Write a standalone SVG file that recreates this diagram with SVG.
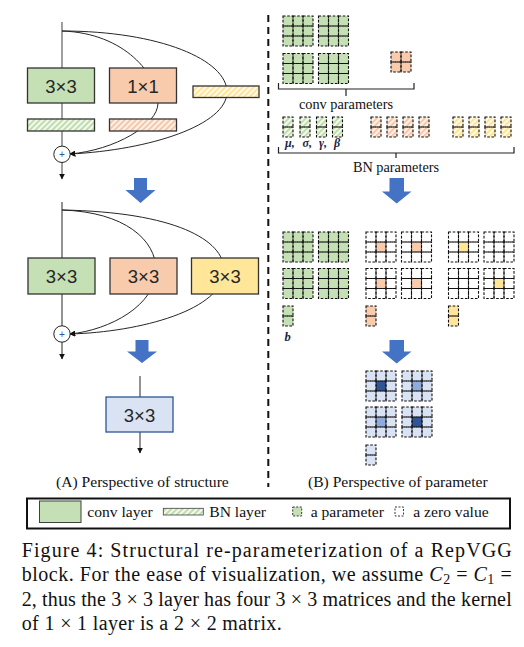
<svg xmlns="http://www.w3.org/2000/svg" xmlns:xlink="http://www.w3.org/1999/xlink" width="524" height="647" viewBox="0 0 524 647">
<style>
.box{stroke:#333;stroke-width:1.3}
.lbl{font-family:"Liberation Sans",Arial,sans-serif;font-size:18.5px;fill:#262626;text-anchor:middle}
.ser{font-family:"Liberation Serif","Times New Roman",serif;fill:#111}
.cur{fill:none;stroke:#262626;stroke-width:1}
.main{fill:none;stroke:#7f7f7f;stroke-width:1.5}
.blk{fill:none;stroke:#262626;stroke-width:1}
.barrow{fill:#4472c4}
.cell{fill:none;stroke:#111;stroke-width:1.1;stroke-dasharray:2.6 1.6}
.brace{fill:none;stroke:#222;stroke-width:1.2}
.gem{font-family:"Liberation Serif","Times New Roman",serif;font-style:italic;font-weight:bold;fill:#1a2440}
</style>
<defs>
<marker id="ah" viewBox="0 0 10 10" refX="9" refY="5" markerWidth="6" markerHeight="6" orient="auto" markerUnits="userSpaceOnUse">
<path d="M0,0 L10,5 L0,10 z" fill="#111"/>
</marker>
<pattern id="hG" width="4" height="4" patternUnits="userSpaceOnUse" patternTransform="rotate(45)">
<rect width="4" height="4" fill="#f3f9ef"/><line x1="1" y1="0" x2="1" y2="4" stroke="#b3d69a" stroke-width="1.6"/>
</pattern>
<pattern id="hO" width="4" height="4" patternUnits="userSpaceOnUse" patternTransform="rotate(45)">
<rect width="4" height="4" fill="#fdf2ea"/><line x1="1" y1="0" x2="1" y2="4" stroke="#f6bc98" stroke-width="1.6"/>
</pattern>
<pattern id="hY" width="4" height="4" patternUnits="userSpaceOnUse" patternTransform="rotate(45)">
<rect width="4" height="4" fill="#fffaea"/><line x1="1" y1="0" x2="1" y2="4" stroke="#ffdf80" stroke-width="1.6"/>
</pattern>
<g id="g3">
<rect class="cell" x="0" y="0" width="10" height="10"/><rect class="cell" x="10" y="0" width="10" height="10"/><rect class="cell" x="20" y="0" width="10" height="10"/>
<rect class="cell" x="0" y="10" width="10" height="10"/><rect class="cell" x="10" y="10" width="10" height="10"/><rect class="cell" x="20" y="10" width="10" height="10"/>
<rect class="cell" x="0" y="20" width="10" height="10"/><rect class="cell" x="10" y="20" width="10" height="10"/><rect class="cell" x="20" y="20" width="10" height="10"/>
</g>
<g id="g2">
<rect class="cell" x="0" y="0" width="10" height="10"/><rect class="cell" x="10" y="0" width="10" height="10"/>
<rect class="cell" x="0" y="10" width="10" height="10"/><rect class="cell" x="10" y="10" width="10" height="10"/>
</g>
<g id="v2">
<rect class="cell" x="0" y="0" width="10" height="10"/><rect class="cell" x="0" y="10" width="10" height="10"/>
</g>
<g id="mG"><rect width="30" height="30" fill="#c5e0b4"/><use href="#g3"/></g>
<g id="mW"><rect width="30" height="30" fill="#fff"/><use href="#g3"/></g>
<g id="mO"><rect width="30" height="30" fill="#fff"/><rect x="10" y="10" width="10" height="10" fill="#f8cbad"/><use href="#g3"/></g>
<g id="mY"><rect width="30" height="30" fill="#fff"/><rect x="10" y="10" width="10" height="10" fill="#ffe699"/><use href="#g3"/></g>
<g id="mBd"><rect width="30" height="30" fill="#dae3f3"/><rect x="10" y="10" width="10" height="10" fill="#2f5597"/><use href="#g3"/></g>
<g id="mBm"><rect width="30" height="30" fill="#dae3f3"/><rect x="10" y="10" width="10" height="10" fill="#8faadc"/><use href="#g3"/></g>
<g id="bnG"><rect width="10" height="20" fill="url(#hG)"/><use href="#v2"/></g>
<g id="bnO"><rect width="10" height="20" fill="url(#hO)"/><use href="#v2"/></g>
<g id="bnY"><rect width="10" height="20" fill="url(#hY)"/><use href="#v2"/></g>
</defs>

<rect width="524" height="647" fill="#fff"/>

<!-- connectors -->
<g id="connectors">
<!-- top structure -->
<line class="main" x1="62" y1="22" x2="62" y2="146"/>
<path class="cur" d="M62,31 C125,33 158,75 158,103 C158,125 115,150 70,154" marker-end="url(#ah)"/>
<path class="cur" d="M62,31 C160,31 227,60 227,92 C227,125 150,150 70,154" marker-end="url(#ah)"/>
<line class="main" x1="62" y1="162.5" x2="62" y2="179" marker-end="url(#ah)"/>
<!-- middle structure -->
<line class="blk" x1="62" y1="202" x2="62" y2="326"/>
<path class="cur" d="M62,210 C125,212 156,240 156,270 C156,305 110,330 70,334" marker-end="url(#ah)"/>
<path class="cur" d="M62,210 C175,212 224,240 224,270 C224,310 140,332 70,334" marker-end="url(#ah)"/>
<line class="blk" x1="62" y1="342" x2="62" y2="359" marker-end="url(#ah)"/>
<!-- bottom structure -->
<line class="blk" x1="140" y1="376" x2="140" y2="397"/>
<line class="blk" x1="140" y1="432" x2="140" y2="453" marker-end="url(#ah)"/>
<!-- separator -->
<line x1="268.3" y1="15" x2="268.3" y2="487" stroke="#111" stroke-width="2" stroke-dasharray="7 5"/>
<!-- big blue arrows -->
<polygon class="barrow" points="134,178 147,178 147,190 155.5,190 140.5,203 125.5,190 134,190"/>
<polygon class="barrow" points="135.5,340 148.5,340 148.5,351.5 157,351.5 142,363 127,351.5 135.5,351.5"/>
<polygon class="barrow" points="389.5,178 404,178 404,191.5 411.5,191.5 396.7,203.5 382,191.5 389.5,191.5"/>
<polygon class="barrow" points="389.5,340 404,340 404,351.5 411.5,351.5 396.7,363.5 382,351.5 389.5,351.5"/>
</g>

<!-- top structure nodes -->
<g id="conv3x3-a"><rect class="box" x="27.5" y="68" width="67" height="35" fill="#c5e0b4"/><text class="lbl" x="61" y="92.5">3×3</text></g>
<g id="conv1x1-a"><rect class="box" x="109.5" y="68" width="67" height="35" fill="#f8cbad"/><text class="lbl" x="143" y="92.5">1×1</text></g>
<g id="bn-id"><rect class="box" x="193" y="86" width="66" height="11.5" fill="url(#hY)" stroke-width="1"/></g>
<g id="bn-3x3"><rect class="box" x="27.5" y="119" width="67" height="12" fill="url(#hG)" stroke-width="1"/></g>
<g id="bn-1x1"><rect class="box" x="109.5" y="119" width="67" height="12" fill="url(#hO)" stroke-width="1"/></g>
<g id="add-a"><circle cx="62" cy="154.3" r="8.2" fill="#fff" stroke="#222" stroke-width="1"/><text x="62" y="158" font-family="Liberation Sans,Arial,sans-serif" font-size="10" fill="#2f5597" text-anchor="middle">+</text></g>

<!-- middle structure nodes -->
<g id="conv3x3-b"><rect class="box" x="28" y="258" width="67" height="36" fill="#c5e0b4"/><text class="lbl" x="61.5" y="283">3×3</text></g>
<g id="conv3x3-c"><rect class="box" x="110" y="258" width="67" height="36" fill="#f8cbad"/><text class="lbl" x="143.5" y="283">3×3</text></g>
<g id="conv3x3-d"><rect class="box" x="191.5" y="258" width="67" height="36" fill="#ffe699"/><text class="lbl" x="225" y="283">3×3</text></g>
<g id="add-b"><circle cx="62" cy="334" r="8.2" fill="#fff" stroke="#222" stroke-width="1"/><text x="62" y="337.7" font-family="Liberation Sans,Arial,sans-serif" font-size="10" fill="#2f5597" text-anchor="middle">+</text></g>

<!-- bottom structure node -->
<g id="conv3x3-final"><rect x="106" y="397" width="67" height="35" fill="#dae3f3" stroke="#2f5597" stroke-width="1.3"/><text class="lbl" x="139.5" y="421.5" font-size="19.5">3×3</text></g>

<text class="ser" x="56" y="486.5" font-size="15.6">(A) Perspective of structure</text>
<text class="ser" x="308" y="486.5" font-size="15.6">(B) Perspective of parameter</text>

<!-- conv parameters -->
<g id="conv-params">
<use href="#mG" x="283" y="16"/><use href="#mG" x="318.5" y="16"/>
<use href="#mG" x="283" y="53.5"/><use href="#mG" x="318.5" y="53.5"/>
<rect x="391" y="52" width="20" height="20" fill="#f8cbad"/><use href="#g2" x="391" y="52"/>
<path class="brace" d="M278.5,83 V89 H414 V83 M346,89 V96"/>
<text class="ser" x="346" y="108.5" font-size="14.3" text-anchor="middle">conv parameters</text>
</g>

<!-- BN parameters -->
<g id="bn-params">
<use href="#bnG" x="283" y="117"/><use href="#bnG" x="300" y="117"/><use href="#bnG" x="316.5" y="117"/><use href="#bnG" x="332.5" y="117"/>
<use href="#bnO" x="371" y="117"/><use href="#bnO" x="387" y="117"/><use href="#bnO" x="403" y="117"/><use href="#bnO" x="419" y="117"/>
<use href="#bnY" x="453" y="117"/><use href="#bnY" x="469" y="117"/><use href="#bnY" x="485" y="117"/><use href="#bnY" x="501" y="117"/>
<text class="gem" x="285" y="146.5" font-size="12">μ,</text>
<text class="gem" x="302.5" y="146.5" font-size="12">σ,</text>
<text class="gem" x="319" y="146.5" font-size="12">γ,</text>
<text class="gem" x="334" y="146.5" font-size="12">β</text>
<path class="brace" d="M278.5,147 V153 H514 V147 M396,153 V158"/>
<text class="ser" x="396" y="172" font-size="14.3" text-anchor="middle">BN parameters</text>
</g>

<!-- converted parameters -->
<g id="conv-equiv">
<use href="#mG" x="283" y="232"/><use href="#mG" x="318.5" y="232"/>
<use href="#mG" x="283" y="268.5"/><use href="#mG" x="318.5" y="268.5"/>
<use href="#mO" x="366" y="232"/><use href="#mO" x="401.5" y="232"/>
<use href="#mO" x="366" y="268.5"/><use href="#mO" x="401.5" y="268.5"/>
<use href="#mY" x="448.5" y="232"/><use href="#mW" x="484" y="232"/>
<use href="#mW" x="448.5" y="268.5"/><use href="#mY" x="484" y="268.5"/>
<rect x="283" y="306" width="10" height="20" fill="#c5e0b4"/><use href="#v2" x="283" y="306"/>
<rect x="366" y="306" width="10" height="20" fill="#f8cbad"/><use href="#v2" x="366" y="306"/>
<rect x="448.5" y="306" width="10" height="20" fill="#ffe699"/><use href="#v2" x="448.5" y="306"/>
<text class="gem" x="284.5" y="341" font-size="12.5">b</text>
</g>

<!-- final parameters -->
<g id="final-params">
<use href="#mBd" x="366" y="371"/><use href="#mBm" x="402" y="371"/>
<use href="#mBm" x="366" y="407"/><use href="#mBd" x="402" y="407"/>
<rect x="366" y="445" width="10" height="20" fill="#dae3f3"/><use href="#v2" x="366" y="445"/>
</g>

<!-- legend -->
<g id="legend">
<rect x="27" y="498.5" width="483" height="30" fill="#fff" stroke="#111" stroke-width="2"/>
<rect x="39.5" y="501" width="41.5" height="21.5" fill="#c5e0b4" stroke="#404040" stroke-width="1"/>
<text class="ser" x="87.3" y="517" font-size="15.6">conv layer</text>
<rect x="163.3" y="508.3" width="40" height="6.7" fill="url(#hG)" stroke="#404040" stroke-width="0.8"/>
<text class="ser" x="209.3" y="517" font-size="15.6">BN layer</text>
<rect x="292.7" y="507" width="9" height="9" fill="#c5e0b4" stroke="#222" stroke-width="0.9" stroke-dasharray="2 1.5"/>
<text class="ser" x="310.7" y="517" font-size="15.6">a parameter</text>
<rect x="395" y="507" width="8.5" height="9" fill="#fff" stroke="#222" stroke-width="0.9" stroke-dasharray="2 1.5"/>
<text class="ser" x="413.3" y="517" font-size="15.6">a zero value</text>
</g>

<!-- caption -->
<g id="caption" class="ser" font-size="20">
<text x="21.7" y="556.5" textLength="490" lengthAdjust="spacing">Figure 4:  Structural re-parameterization of a RepVGG</text>
<text x="21.7" y="581" textLength="490" lengthAdjust="spacing">block. For the ease of visualization, we assume <tspan font-style="italic">C</tspan><tspan font-size="14" dy="3">2</tspan><tspan dy="-3"> = </tspan><tspan font-style="italic">C</tspan><tspan font-size="14" dy="3">1</tspan><tspan dy="-3"> =</tspan></text>
<text x="21.7" y="605.5" textLength="490" lengthAdjust="spacing">2, thus the 3 × 3 layer has four 3 × 3 matrices and the kernel</text>
<text x="21.7" y="630" textLength="260" lengthAdjust="spacing">of 1 × 1 layer is a 2 × 2 matrix.</text>
</g>
</svg>
